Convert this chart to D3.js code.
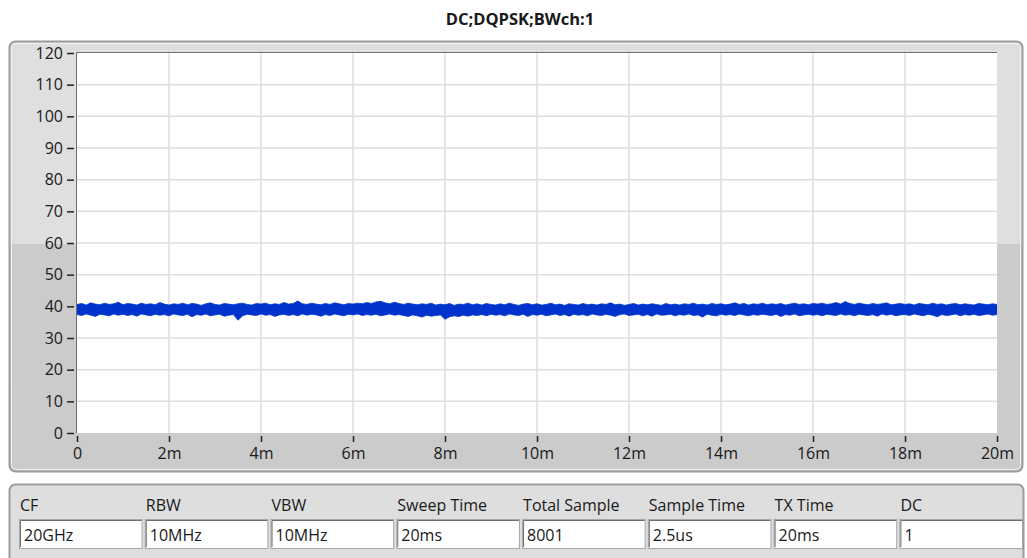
<!DOCTYPE html>
<html>
<head>
<meta charset="utf-8">
<script src="https://cdn.jsdelivr.net/npm/d3@7"></script>
<style>
  body { margin: 0; background: #fff; }
  text { font-family: "Open Sans", sans-serif; fill: #1a1a1a; }
</style>
</head>
<body>
<svg id="canvas" width="1027" height="558"></svg>
<script>
// chart data
var title = 'DC;DQPSK;BWch:1'
var xTicks = [0, 0.002, 0.004, 0.006, 0.008, 0.010, 0.012, 0.014, 0.016, 0.018, 0.020]
var yTicks = [0, 10, 20, 30, 40, 50, 60, 70, 80, 90, 100, 110, 120]
var sweepTime = 0.02
// 8001 samples are far denser than the pixels, so the trace is kept as its
// upper and lower envelope, one reading per 0.1 ms
var traceMax = [
  40.6,40.9,40.4,41.1,40.7,40.5,41.0,40.6,40.8,41.3,
  40.5,40.9,40.7,40.4,41.0,40.6,40.8,40.5,41.2,40.7,
  40.4,40.8,40.6,41.0,40.5,40.9,40.7,40.3,40.8,41.1,
  40.6,40.4,40.9,40.7,40.5,40.8,41.0,40.6,40.4,40.9,
  40.7,41.0,40.5,40.8,40.6,41.2,40.7,40.9,41.7,40.8,
  40.6,41.0,40.7,40.5,40.9,40.6,41.1,40.8,40.5,40.9,
  40.7,41.0,40.8,41.2,40.9,41.4,41.6,41.1,40.8,41.3,
  40.9,40.6,41.0,40.7,40.5,40.8,40.6,41.0,40.4,40.7,
  40.5,40.9,40.3,40.7,40.6,41.0,40.5,40.8,40.4,40.9,
  40.6,40.4,40.8,40.5,41.0,40.6,40.3,40.7,40.9,40.5,
  40.8,40.4,40.6,41.0,40.5,40.7,40.3,40.8,40.6,40.4,
  40.9,40.5,40.7,40.4,40.8,40.6,41.1,40.5,40.7,40.3,
  40.6,40.9,40.4,40.7,40.5,40.8,40.6,40.3,40.9,40.5,
  40.7,40.4,40.8,40.6,41.0,40.5,40.7,40.4,40.9,40.6,
  40.8,40.5,40.7,41.1,40.6,40.9,40.4,40.8,40.6,41.0,
  40.5,40.8,40.6,40.9,40.4,40.7,41.0,40.6,40.8,40.5,
  40.9,40.7,41.0,40.6,40.8,41.2,40.7,41.5,40.9,40.6,
  41.0,40.7,40.5,40.9,40.6,40.8,41.1,40.5,40.7,40.9,
  40.6,40.8,40.4,40.9,40.7,40.5,41.0,40.6,40.8,40.4,
  40.7,40.9,40.5,40.8,40.6,40.4,40.9,40.7,40.5,40.8,
  40.6
]
var traceMin = [
  37.4,37.1,37.6,37.2,36.8,37.5,37.3,37.0,37.6,37.2,
  37.5,37.1,37.4,36.9,37.6,37.3,37.0,37.5,37.2,37.4,
  37.0,37.6,37.3,37.1,37.5,36.7,37.4,37.2,37.6,37.0,
  37.3,37.5,36.9,37.2,37.4,35.6,37.0,37.5,37.3,37.1,
  37.6,37.2,37.4,36.8,37.3,37.5,37.1,37.4,37.0,37.6,
  37.2,37.5,37.3,36.9,37.4,37.1,37.6,37.3,37.0,37.5,
  37.3,37.6,37.1,37.4,37.2,37.5,37.0,37.3,37.6,37.2,
  37.4,37.1,36.8,37.3,37.0,36.6,37.2,36.9,37.1,37.3,
  35.9,36.7,37.0,36.8,37.2,36.9,37.3,37.1,37.4,37.0,
  37.5,37.2,37.4,37.0,37.6,37.3,37.1,37.5,36.8,37.4,
  37.2,37.5,37.0,37.3,37.6,37.1,37.4,36.9,37.5,37.2,
  37.4,37.0,37.6,37.3,37.1,37.5,37.2,36.8,37.4,37.6,
  37.1,37.3,37.5,37.0,37.4,36.9,37.6,37.2,37.3,37.5,
  37.0,37.4,37.2,37.6,37.1,37.3,36.6,37.5,37.2,37.0,
  37.5,37.2,37.4,37.1,37.6,37.3,37.0,37.4,37.2,37.5,
  37.3,37.1,37.5,36.8,37.4,37.2,37.6,37.0,37.3,37.5,
  37.2,37.4,37.0,37.5,37.3,37.1,37.6,37.2,37.4,37.0,
  37.5,37.3,37.1,37.4,36.9,37.6,37.2,37.5,37.0,37.3,
  37.4,37.1,37.6,37.3,37.0,37.5,37.2,36.7,37.4,37.1,
  37.3,37.6,37.0,37.4,37.2,37.5,37.1,37.3,37.6,37.2,
  37.4
]
var fieldNames = ['CF', 'RBW', 'VBW', 'Sweep Time', 'Total Sample', 'Sample Time', 'TX Time', 'DC']
var fieldValues = ['20GHz', '10MHz', '10MHz', '20ms', '8001', '2.5us', '20ms', '1']

var svg = d3.select('#canvas')
var defs = svg.append('defs')

// graph panel background, lighter top half / darker bottom half
var grad = defs.append('linearGradient')
  .attr('id', 'panelFill')
  .attr('x1', 0).attr('y1', 0).attr('x2', 0).attr('y2', 1)
grad.append('stop').attr('offset', 0.471).attr('stop-color', '#dfdfdf')
grad.append('stop').attr('offset', 0.471).attr('stop-color', '#cbcbcb')

svg.append('text')
  .attr('x', 520)
  .attr('y', 25)
  .attr('text-anchor', 'middle')
  .style('font-size', '16.5px')
  .style('font-weight', 'bold')
  .text(title)

svg.append('rect')
  .attr('x', 9.5).attr('y', 41.5)
  .attr('width', 1013).attr('height', 430)
  .attr('rx', 6)
  .attr('fill', 'url(#panelFill)')
  .attr('stroke', '#9c9c9c')
  .attr('stroke-width', 2)
svg.append('rect')
  .attr('x', 11.5).attr('y', 43.5)
  .attr('width', 1009).attr('height', 426)
  .attr('rx', 5)
  .attr('fill', 'none')
  .attr('stroke', '#f2f2f2')
  .attr('stroke-width', 1)

var x = d3.scaleLinear().domain([0, sweepTime]).range([77, 997])
var y = d3.scaleLinear().domain([0, 120]).range([433, 53])

var plot = svg.append('g')
plot.append('rect')
  .attr('x', x(0)).attr('y', y(120))
  .attr('width', x(sweepTime) - x(0)).attr('height', y(0) - y(120))
  .attr('fill', '#fff')

// grid
plot.selectAll('.vgrid')
  .data(xTicks.slice(1, -1))
  .enter()
  .append('line')
  .attr('class', 'vgrid')
  .attr('x1', d => x(d)).attr('x2', d => x(d))
  .attr('y1', y(120)).attr('y2', y(0))
  .style('stroke', '#dedede')
  .style('stroke-width', 1.5)
plot.selectAll('.hgrid')
  .data(yTicks.slice(1, -1))
  .enter()
  .append('line')
  .attr('class', 'hgrid')
  .attr('x1', x(0)).attr('x2', x(sweepTime))
  .attr('y1', d => y(d)).attr('y2', d => y(d))
  .style('stroke', '#dedede')
  .style('stroke-width', 1.5)

// trace band
defs.append('clipPath').attr('id', 'plotClip')
  .append('rect')
  .attr('x', x(0)).attr('y', y(120))
  .attr('width', x(sweepTime) - x(0)).attr('height', y(0) - y(120))

var step = sweepTime / (traceMax.length - 1)
var band = d3.area()
  .x((d, i) => x(i * step))
  .y0((d, i) => y(traceMin[i]))
  .y1(d => y(d))
plot.append('path')
  .datum(traceMax)
  .attr('clip-path', 'url(#plotClip)')
  .attr('d', band)
  .attr('fill', '#0033cc')
  .style('stroke', '#0033cc')
  .style('stroke-width', 0.8)

// plot frame, left and top
plot.append('path')
  .attr('d', `M${x(0) - 0.5},${y(0)}V${y(120) - 0.5}H${x(sweepTime)}`)
  .attr('fill', 'none')
  .style('stroke', '#707070')
  .style('stroke-width', 1)

// axes
var yAxis = svg.append('g')
  .attr('transform', 'translate(74,0)')
  .call(d3.axisLeft(y).tickValues(yTicks).tickSize(7).tickPadding(4))
var xAxis = svg.append('g')
  .attr('transform', 'translate(0,436)')
  .call(d3.axisBottom(x).tickValues(xTicks).tickSize(6).tickPadding(6)
    .tickFormat(d => d === 0 ? '0' : `${Math.round(d * 1000)}m`))
;[yAxis, xAxis].forEach(function(a) {
  a.select('.domain').remove()
  a.selectAll('.tick line').style('stroke', '#222').style('stroke-width', 1.5)
  a.selectAll('.tick text')
    .style('font-family', '"Open Sans", sans-serif')
    .style('font-size', '16px')
    .style('fill', '#1a1a1a')
})

// info panel
svg.append('rect')
  .attr('x', 9.5).attr('y', 484.5)
  .attr('width', 1014).attr('height', 90)
  .attr('rx', 6)
  .attr('fill', '#dedede')
  .attr('stroke', '#9c9c9c')
  .attr('stroke-width', 2)

var fx = d3.scaleBand().domain(fieldNames).range([20, 1023]).paddingInner(0.025).paddingOuter(0)
var fields = svg.selectAll('.field')
  .data(fieldNames)
  .enter()
  .append('g')
  .attr('class', 'field')
  .attr('transform', d => `translate(${fx(d)},0)`)
fields.append('text')
  .attr('x', 0)
  .attr('y', 511)
  .style('font-size', '16px')
  .text(d => d)
fields.append('rect')
  .attr('x', -0.5).attr('y', 519.5)
  .attr('width', fx.bandwidth()).attr('height', 29)
  .attr('fill', '#fff')
  .attr('stroke', '#a6a6a6')
fields.append('path')
  .attr('d', `M0.5,547V520.5H${fx.bandwidth() - 1}`)
  .attr('fill', 'none')
  .attr('stroke', '#6e6e6e')
fields.append('text')
  .attr('x', 4)
  .attr('y', 541)
  .style('font-size', '16px')
  .text((d, i) => fieldValues[i])
</script>
</body>
</html>
